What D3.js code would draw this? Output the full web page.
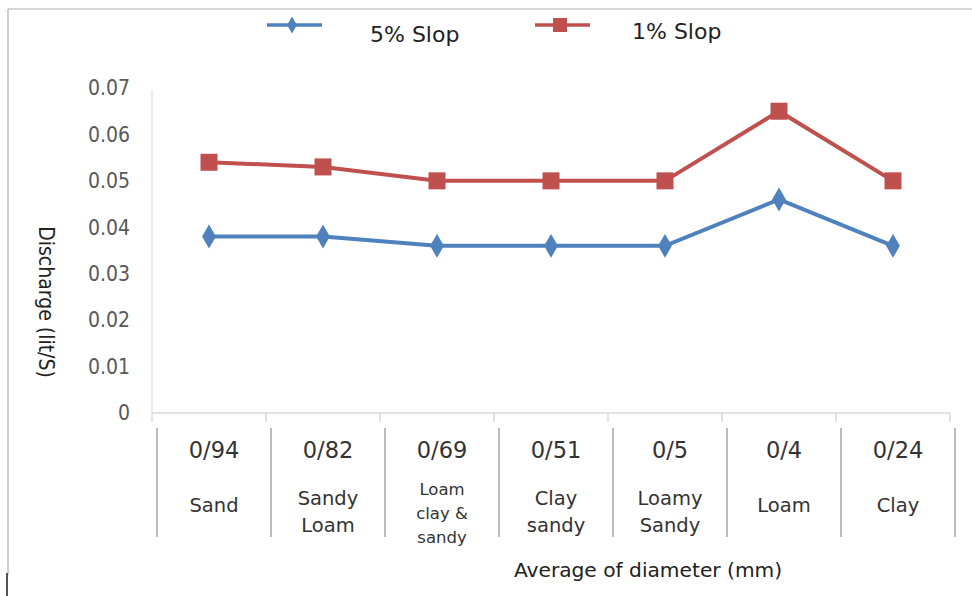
<!DOCTYPE html>
<html><head><meta charset="utf-8">
<script src="https://cdn.jsdelivr.net/npm/d3@7"></script>
<style>body{margin:0;background:#fff}svg{display:block}</style>
</head><body>
<svg id="c" width="972" height="596"></svg>
<script>
const diameters = ["0/94","0/82","0/69","0/51","0/5","0/4","0/24"];
const soilNames = [["Sand"],["Sandy","Loam"],["Loam","clay &","sandy"],["Clay","sandy"],["Loamy","Sandy"],["Loam"],["Clay"]];
const slope5 = [0.038,0.038,0.036,0.036,0.036,0.046,0.036];
const slope1 = [0.054,0.053,0.050,0.050,0.050,0.065,0.050];
const yTicks = [0,0.01,0.02,0.03,0.04,0.05,0.06,0.07];
const seriesNames = ["5% Slop","1% Slop"];

const svg = d3.select("#c");
const fontC = "'DejaVu Sans Condensed','Liberation Sans Narrow',sans-serif";
const fontW = "'DejaVu Sans',Verdana,sans-serif";

// frame
svg.append("line").attr("x1",8).attr("x2",972).attr("y1",9).attr("y2",9).attr("stroke","#c8c8c8").attr("stroke-width",1.5);
svg.append("line").attr("x1",8).attr("x2",8).attr("y1",9).attr("y2",575).attr("stroke","#b0b0b0").attr("stroke-width",1.2);
svg.append("line").attr("x1",7).attr("x2",7).attr("y1",573).attr("y2",596).attr("stroke","#555").attr("stroke-width",2);

const x = d3.scaleBand().domain(d3.range(7)).range([152,950]);
const y = d3.scaleLinear().domain([0,0.07]).range([413,88]);

// y axis
const ya = svg.append("g").attr("transform","translate(152,0)")
  .call(d3.axisLeft(y).tickValues(yTicks).tickSize(0).tickPadding(22).tickFormat(d=>d===0?"0":d3.format(".2f")(d)));
ya.select(".domain").attr("stroke","#d9d9d9").attr("d","M0,90V413");
ya.selectAll("text").attr("font-family",fontC).attr("font-size",21).attr("fill","#595959");

// x axis line with ticks
const xa = svg.append("g").attr("transform","translate(0,413)")
  .call(d3.axisBottom(x).tickSize(0).tickFormat(""));
xa.select(".domain").attr("stroke","#d9d9d9").attr("stroke-width",1.5).attr("d","M152,0H950");
const bounds = d3.range(8).map(i=> i<7 ? x(i) : x(6)+x.bandwidth());
svg.selectAll(".xt").data(bounds).join("line").attr("class","xt")
  .attr("x1",d=>d).attr("x2",d=>d).attr("y1",413).attr("y2",422).attr("stroke","#d9d9d9").attr("stroke-width",1.5);

// table separators
svg.selectAll(".sep").data(bounds).join("line").attr("class","sep")
  .attr("x1",d=>d+5).attr("x2",d=>d+5).attr("y1",428).attr("y2",537).attr("stroke","#a6a6a6").attr("stroke-width",1.5);

// diameter labels
svg.selectAll(".dl").data(diameters).join("text").attr("class","dl")
  .attr("x",(d,i)=>x(i)+x.bandwidth()/2+5).attr("y",458).attr("text-anchor","middle")
  .attr("font-family",fontW).attr("font-size",22.5).attr("fill","#333").text(d=>d);

// soil name labels
soilNames.forEach((lines,i)=>{
  const n = lines.length;
  const startY = n===1 ? 512 : (n===2 ? 505 : 495);
  const lh = n===3 ? 24 : 27;
  const t = svg.append("text").attr("text-anchor","middle").attr("font-family",fontW)
    .attr("font-size", n===3?16.5:19.5).attr("fill","#333");
  lines.forEach((l,j)=>{
    t.append("tspan").attr("x",x(i)+x.bandwidth()/2+5).attr("y",startY+j*lh).text(l);
  });
});

// axis titles
svg.append("text").attr("x",648).attr("y",577).attr("text-anchor","middle")
  .attr("font-family",fontW).attr("font-size",20.2).attr("fill","#222").text("Average of diameter (mm)");
svg.append("text").attr("transform","translate(39,302) rotate(90)").attr("text-anchor","middle")
  .attr("font-family",fontC).attr("font-size",21).attr("fill","#222").text("Discharge  (lit/S)");

// lines
const colors = ["#4F81BD","#C0504D"];
const line = d3.line().x((d,i)=>x(i)+x.bandwidth()/2).y(d=>y(d));
svg.append("path").datum(slope5).attr("d",line).attr("fill","none").attr("stroke",colors[0]).attr("stroke-width",4);
svg.append("path").datum(slope1).attr("d",line).attr("fill","none").attr("stroke",colors[1]).attr("stroke-width",4);

const diamond = d3.symbol().type(d3.symbolDiamond).size(150);
svg.selectAll(".m5").data(slope5).join("path").attr("class","m5")
  .attr("transform",(d,i)=>`translate(${x(i)+x.bandwidth()/2},${y(d)}) scale(1.05,1.05)`)
  .attr("d",diamond).attr("fill",colors[0]);
svg.selectAll(".m1").data(slope1).join("rect").attr("class","m1")
  .attr("x",(d,i)=>x(i)+x.bandwidth()/2-8.5).attr("y",d=>y(d)-8.5)
  .attr("width",17).attr("height",17).attr("fill",colors[1]);

// legend
const lg = svg.append("g");
lg.append("line").attr("x1",267).attr("x2",322).attr("y1",25).attr("y2",25).attr("stroke",colors[0]).attr("stroke-width",3.5);
lg.append("path").attr("d",d3.symbol().type(d3.symbolDiamond).size(70)()).attr("transform","translate(292,25) scale(1.1,1.1)").attr("fill",colors[0]);
lg.append("text").attr("x",370).attr("y",42).attr("font-family",fontW).attr("font-size",22).attr("fill","#222").text(seriesNames[0]);
lg.append("line").attr("x1",535).attr("x2",590).attr("y1",25).attr("y2",25).attr("stroke",colors[1]).attr("stroke-width",3.5);
lg.append("rect").attr("x",553).attr("y",18).attr("width",14).attr("height",14).attr("fill",colors[1]);
lg.append("text").attr("x",632).attr("y",39).attr("font-family",fontW).attr("font-size",22).attr("fill","#222").text(seriesNames[1]);
</script>
</body></html>
